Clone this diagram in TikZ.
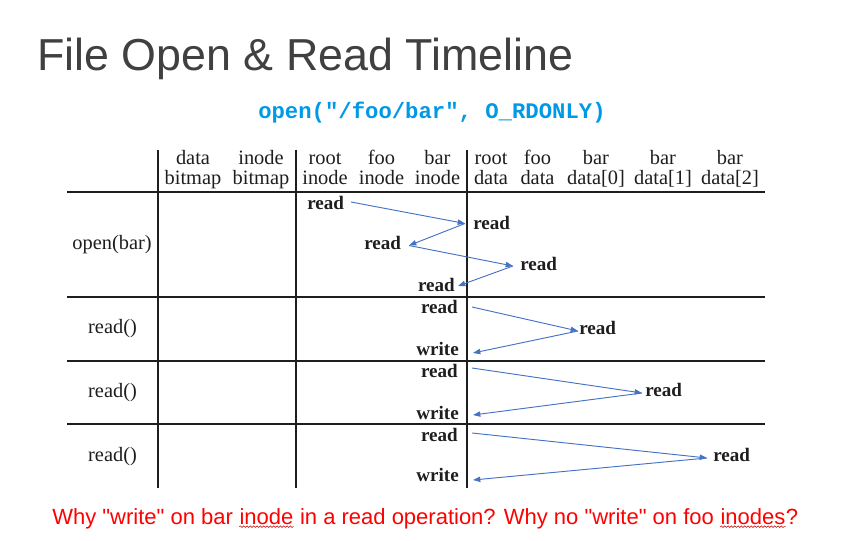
\documentclass[tikz,border=0pt]{standalone}
\usepackage{fontspec}
\setmainfont{Liberation Serif}
\newfontfamily\slidefont{Liberation Sans}
\newfontfamily\codefont{Liberation Mono}
\usetikzlibrary{arrows.meta,decorations.pathmorphing}
\definecolor{titlegray}{RGB}{64,64,64}
\definecolor{codeblue}{RGB}{0,153,230}
\definecolor{flowblue}{RGB}{68,114,196}
\definecolor{ink}{RGB}{30,30,30}
\definecolor{askred}{RGB}{255,0,0}

\begin{document}
\begin{tikzpicture}[x=0.75pt,y=-0.75pt,
  rule/.style={draw=ink,line width=#1},
  hdr/.style={font=\fontsize{15.3}{15.3}\selectfont, text=ink, inner sep=0pt, anchor=base},
  op/.style={font=\fontsize{14.3}{14.3}\selectfont\bfseries, text=ink, inner sep=0pt},
  rowlbl/.style={font=\fontsize{15.3}{15.3}\selectfont, text=ink, inner sep=0pt},
  flow/.style={draw=flowblue, line width=0.7pt, -{Triangle[length=5.5pt,width=4pt]}},
  ask/.style={font=\slidefont\fontsize{16.5}{16.5}\selectfont, text=askred, inner sep=0pt, anchor=base west},
  squig/.style={draw=askred!75!black, line width=0.4pt, decorate,
    decoration={snake,amplitude=0.6pt,segment length=2.5pt}}
]
\useasboundingbox (0,0) rectangle (857,541);

% heading and the system call being traced
\node[font=\slidefont\fontsize{33.6}{33.6}\selectfont, text=titlegray,
      anchor=base west, inner sep=0pt] (title) at (37,71) {File Open \& Read Timeline};
\node[font=\codefont\fontsize{16.7}{16.7}\selectfont\bfseries, text=codeblue,
      anchor=base west, inner sep=0pt] (call) at (258,119) {open("/foo/bar", O\_RDONLY)};

% column headings
\foreach \nm/\cx/\ta/\tb in {db/193/data/bitmap, ib/261/inode/bitmap,
    ri/325/root/inode, fi/381.5/foo/inode, bi/437.5/bar/inode,
    rd/491/root/data, fd/537.5/foo/data, b0/596/bar/{data[0]},
    b1/663/bar/{data[1]}, b2/730/bar/{data[2]}} {
  \node[hdr] (\nm-top) at (\cx,165) {\ta};
  \node[hdr] (\nm-bot) at (\cx,185) {\tb};
}

% table rules
\draw[rule=2.2pt] (67,192) -- (765,192);
\draw[rule=1.9pt] (67,297) -- (765,297);
\draw[rule=1.3pt] (67,361) -- (765,361);
\draw[rule=1.3pt] (67,424) -- (765,424);
\draw[rule=1.5pt] (158,150) -- (158,488);
\draw[rule=1.9pt] (296,150) -- (296,488);
\draw[rule=1.9pt] (467,150) -- (467,488);

% row labels
\node[rowlbl] (open) at (112,244.5) {open(bar)};
\node[rowlbl] (rdA) at (112.5,328.5) {read()};
\node[rowlbl] (rdB) at (112.5,392.5) {read()};
\node[rowlbl] (rdC) at (112.5,456.5) {read()};

% open(bar): path lookup
\node[op,anchor=base west] (o1) at (307,210) {read};
\node[op,anchor=base west] (o2) at (473,230) {read};
\node[op,anchor=base west] (o3) at (364,250) {read};
\node[op,anchor=base west] (o4) at (520,271) {read};
\node[op,anchor=base east] (o5) at (455,292) {read};

\coordinate (a0) at (351,202);
\coordinate (a1) at (465,223.5);
\coordinate (a2) at (409,245.5);
\coordinate (a3) at (513,266);
\coordinate (a4) at (458,286);
\draw[flow] (a0) -- (a1);
\draw[flow] (a1) -- (a2);
\draw[flow] (a2) -- (a3);
\draw[flow] (a3) -- (a4);

% read() calls: inode read, data block read, inode write
\foreach \k/\ry/\wy/\dx/\dy/\tx/\ty/\sy/\ey in {
    A/314/356/579/335/578/331/307/353,
    B/378/420/645/397/642/393/368/415,
    C/441/482/713/461/707/458/433/480} {
  \node[op,anchor=base east] (ir\k) at (458,\ry) {read};
  \node[op,anchor=base east] (iw\k) at (459,\wy) {write};
  \node[op,anchor=base west] (dr\k) at (\dx,\dy) {read};
  \coordinate (s\k) at (472,\sy);
  \coordinate (t\k) at (\tx,\ty);
  \coordinate (e\k) at (473,\ey);
  \draw[flow] (s\k) -- (t\k);
  \draw[flow] (t\k) -- (e\k);
}

% question line
\node[ask] (q1) at (52,524) {Why "write" on bar\ \null};
\node[ask] (q2) at (q1.base east) {inode};
\node[ask] (q3) at (q2.base east) {\ in a read operation? Why no "write" on foo\ \null};
\node[ask] (q4) at (q3.base east) {inodes};
\node[ask] (q5) at (q4.base east) {?};
\draw[squig] ([yshift=-2pt]q2.base west) -- ([yshift=-2pt]q2.base east);
\draw[squig] ([yshift=-2pt]q4.base west) -- ([yshift=-2pt]q4.base east);
\end{tikzpicture}
\end{document}
